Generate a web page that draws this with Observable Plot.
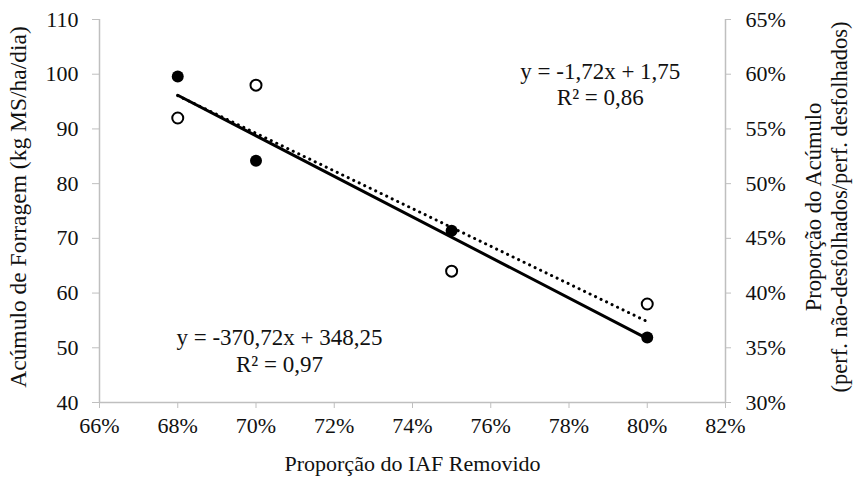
<!DOCTYPE html>
<html>
<head>
<meta charset="utf-8">
<script src="https://cdn.jsdelivr.net/npm/d3@7"></script>
<script src="https://cdn.jsdelivr.net/npm/@observablehq/plot@0.6"></script>
<style>
  html, body { margin: 0; padding: 0; background: #fff; }
</style>
</head>
<body>
<div id="chart"></div>
<script>
// ---- data ----
const iafRemovido = [0.68, 0.70, 0.75, 0.80];            // x: Proporção do IAF Removido
const acumuloForragem = [99.6, 84.2, 71.4, 51.9];        // filled dots, left axis (kg MS/ha/dia)
const proporcaoAcumulo = [0.56, 0.59, 0.42, 0.39];       // open dots, right axis (fraction)
const trendRange = [0.68, 0.80];
const trendAcumulo = [-370.72, 348.25];                  // slope, intercept
const trendProporcao = [-1.72, 1.75];                    // slope, intercept
const xTicks = [0.66, 0.68, 0.70, 0.72, 0.74, 0.76, 0.78, 0.80, 0.82];
const leftTicks = [40, 50, 60, 70, 80, 90, 100, 110];
const rightTicks = [0.30, 0.35, 0.40, 0.45, 0.50, 0.55, 0.60, 0.65];
const eqAcumulo = "y = -370,72x + 348,25\nR² = 0,97";
const eqProporcao = "y = -1,72x + 1,75\nR² = 0,86";

// map right-axis values (30%–65%) onto left-axis domain (40–110)
const toLeft = v => 40 + (v - 0.30) * (70 / 0.35);

const filled = iafRemovido.map((x, i) => ({x, y: acumuloForragem[i]}));
const open = iafRemovido.map((x, i) => ({x, y: toLeft(proporcaoAcumulo[i])}));
const lineA = trendRange.map(x => ({x, y: trendAcumulo[0] * x + trendAcumulo[1]}));
const lineP = trendRange.map(x => ({x, y: toLeft(trendProporcao[0] * x + trendProporcao[1])}));

const FONT = "'Liberation Serif', 'Times New Roman', serif";
const AX = "#bfbfbf";
const TXT = "#111";
const pct = d => Math.round(d * 100) + "%";

const chart = Plot.plot({
  width: 853,
  height: 477,
  marginLeft: 99,
  marginRight: 128,
  marginTop: 19,
  marginBottom: 75,
  style: {fontFamily: FONT, fontSize: "22px", background: "#fff", color: TXT},
  x: {domain: [0.66, 0.82]},
  y: {domain: [40, 110]},
  marks: [
    // axis lines
    Plot.ruleX([0.66], {stroke: AX, strokeWidth: 1.5}),
    Plot.ruleX([0.82], {stroke: AX, strokeWidth: 1.5}),
    Plot.ruleY([40], {stroke: AX, strokeWidth: 1.5}),
    // axes
    Plot.axisX(xTicks, {tickSize: 6, tickPadding: 9, tickFormat: pct, stroke: AX, fill: TXT, fontSize: 22, label: null}),
    Plot.axisY(leftTicks, {anchor: "left", tickSize: 7, tickPadding: 14, stroke: AX, fill: TXT, fontSize: 22, label: null}),
    Plot.axisY(rightTicks.map(toLeft), {anchor: "right", tickSize: 5, tickPadding: 15, stroke: AX, fill: TXT, fontSize: 22, label: null,
      tickFormat: (d, i) => pct(rightTicks[i])}),
    // axis titles
    Plot.text(["Proporção do IAF Removido"], {frameAnchor: "bottom", dy: 61, fontSize: 22, fill: TXT, textAnchor: "middle", lineAnchor: "middle"}),
    Plot.text(["Acúmulo de Forragem (kg MS/ha/dia)"], {frameAnchor: "left", dx: -81, dy: -4, rotate: -90, fontSize: 23.5, fill: TXT, textAnchor: "middle", lineAnchor: "middle"}),
    Plot.text(["Proporção do Acúmulo\n(perf. não-desfolhados/perf. desfolhados)"], {frameAnchor: "right", dx: 100, dy: -4, rotate: -90, fontSize: 22.5, lineHeight: 1.16, fill: TXT, textAnchor: "middle", lineAnchor: "middle"}),
    // trend lines
    Plot.line(lineP, {x: "x", y: "y", stroke: "#000", strokeWidth: 3, strokeDasharray: "0.1,6", strokeLinecap: "round"}),
    Plot.line(lineA, {x: "x", y: "y", stroke: "#000", strokeWidth: 3}),
    // points
    Plot.dot(open, {x: "x", y: "y", r: 5.5, fill: "#fff", stroke: "#000", strokeWidth: 2}),
    Plot.dot(filled, {x: "x", y: "y", r: 6, fill: "#000"}),
    // equations
    Plot.text([eqProporcao], {x: () => 0.788, y: () => 98.3, fontSize: 23, lineHeight: 1.15, fill: TXT}),
    Plot.text([eqAcumulo], {x: () => 0.706, y: () => 49.55, fontSize: 23, lineHeight: 1.15, fill: TXT})
  ]
});
document.getElementById("chart").appendChild(chart);
</script>
</body>
</html>
